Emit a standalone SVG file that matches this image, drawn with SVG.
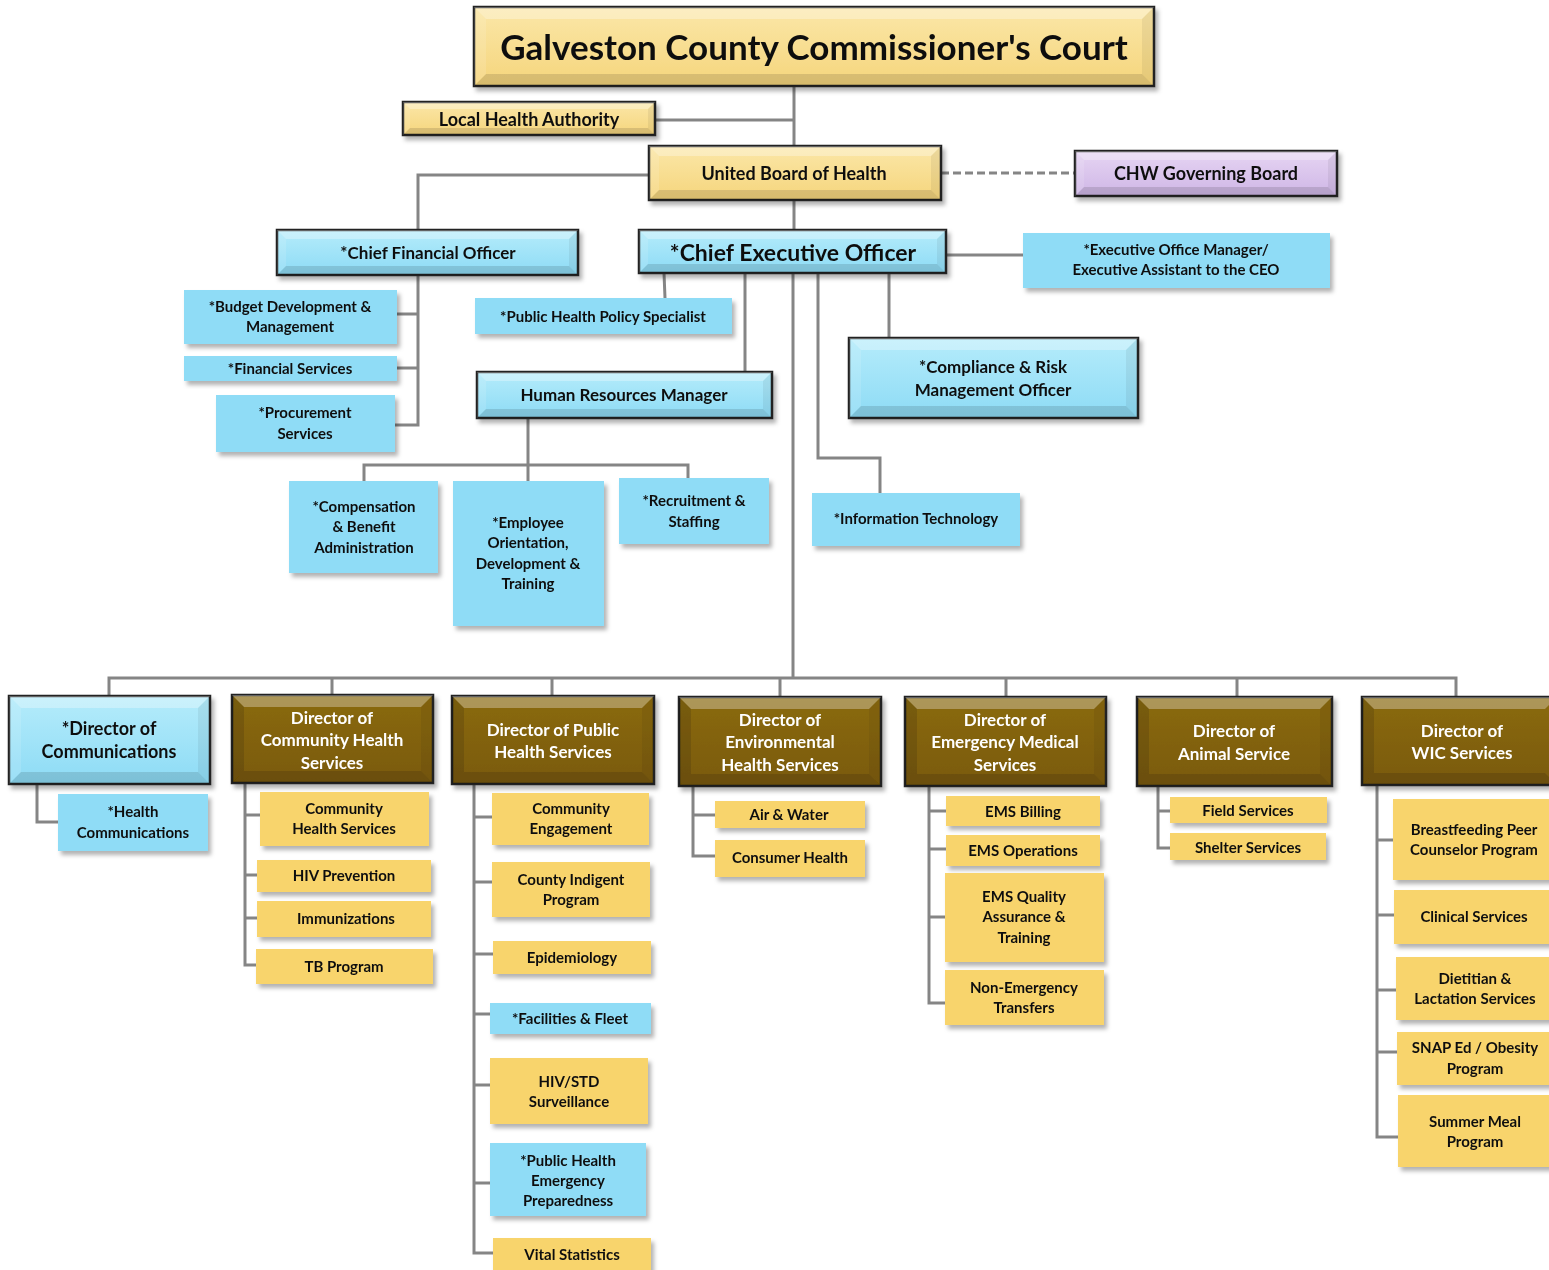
<svg xmlns="http://www.w3.org/2000/svg" width="1549" height="1270" viewBox="0 0 1549 1270">
<defs>
<filter id="sh" x="-10%" y="-10%" width="130%" height="140%">
<feDropShadow dx="3" dy="4" stdDeviation="2" flood-color="#000" flood-opacity="0.3"/>
</filter>
<linearGradient id="gy" x1="0" y1="0" x2="0" y2="1"><stop offset="0" stop-color="#fbe7a8"/><stop offset="1" stop-color="#f5d57c"/></linearGradient>
<linearGradient id="gb" x1="0" y1="0" x2="0" y2="1"><stop offset="0" stop-color="#b5ecfb"/><stop offset="1" stop-color="#8ddbf5"/></linearGradient>
<linearGradient id="gp" x1="0" y1="0" x2="0" y2="1"><stop offset="0" stop-color="#e6d5f3"/><stop offset="1" stop-color="#cfb6e6"/></linearGradient>
<linearGradient id="gr" x1="0" y1="0" x2="0" y2="1"><stop offset="0" stop-color="#8a6a12"/><stop offset="1" stop-color="#7a5a08"/></linearGradient>
</defs>
<style>
.c{fill:none;stroke:#858585;stroke-width:3}
.bx{stroke:#222;stroke-width:2.5}
.y{fill:url(#gy)}
.b{fill:url(#gb)}
.p{fill:url(#gp)}
.r{fill:url(#gr)}
.fy{fill:#f8d46c}
.fb{fill:#8fdcf6}
.bt{fill:#fff;opacity:0.3}
.bl{fill:#fff;opacity:0.12}
.bb{fill:#000;opacity:0.12}
.br{fill:#000;opacity:0.06}
text{font-family:Lato,"Liberation Sans",sans-serif;font-weight:bold;text-anchor:middle;fill:#111}
.s{font-size:15px}
.m{font-size:17px}
.d{font-size:17px;fill:#fff}
.dk{font-size:17px}
</style>
<g id="connectors">
<path class="c" d="M794,86 V146 M655,120 H794 M794,200 V230 M649,175 H418 V230 M946,255 H1023"/>
<path class="c" d="M941,173 H1075" stroke-dasharray="8 4"/>
<path class="c" d="M418,275 V425 H395 M397,314 H418 M397,368 H418"/>
<path class="c" d="M664,273 L665,298 M745,273 V372 M889,273 V338 M818,273 V458 H880 V493 M793,273 V678"/>
<path class="c" d="M109,696 V678 H1456 V697 M332,678 V695 M552,678 V696 M780,678 V697 M1006,678 V697 M1237,678 V697"/>
<path class="c" d="M528,418 V481 M364,481 V465 H688 V478"/>
<path class="c" d="M37,784 V822 H58"/>
<path class="c" d="M245,783 V965 H256 M245,815 H260 M245,875 H257 M245,918 H257"/>
<path class="c" d="M474,784 V1253 H493 M474,817 H492 M474,882 H492 M474,954 H493 M474,1014 H490 M474,1085 H490 M474,1183 H490"/>
<path class="c" d="M693,786 V856 H715 M693,815 H715"/>
<path class="c" d="M929,786 V1003 H945 M929,811 H946 M929,849 H946 M929,917 H945"/>
<path class="c" d="M1158,786 V848 H1170 M1158,811 H1170"/>
<path class="c" d="M1377,785 V1137 H1398 M1377,840 H1393 M1377,915 H1394 M1377,990 H1396 M1377,1052 H1397"/>
</g>
<g id="title" filter="url(#sh)">
<rect class="bx y" x="474" y="7" width="680" height="79"/>
<polygon class="bt" points="474,7 1154,7 1142,19 486,19"/><polygon class="bb" points="474,86 1154,86 1142,74 486,74"/><polygon class="bl" points="474,7 486,19 486,74 474,86"/><polygon class="br" points="1154,7 1142,19 1142,74 1154,86"/>
<text x="814" y="60" style="font-size:35px">Galveston County Commissioner's Court</text>
</g>
<g id="lha" filter="url(#sh)">
<rect class="bx y" x="403" y="102" width="252" height="33"/>
<polygon class="bt" points="403,102 655,102 648,109 410,109"/><polygon class="bb" points="403,135 655,135 648,128 410,128"/><polygon class="bl" points="403,102 410,109 410,128 403,135"/><polygon class="br" points="655,102 648,109 648,128 655,135"/>
<text class="m" x="529" y="126" style="font-size:18px">Local Health Authority</text>
</g>
<g id="ubh" filter="url(#sh)">
<rect class="bx y" x="649" y="146" width="292" height="54"/>
<polygon class="bt" points="649,146 941,146 931,156 659,156"/><polygon class="bb" points="649,200 941,200 931,190 659,190"/><polygon class="bl" points="649,146 659,156 659,190 649,200"/><polygon class="br" points="941,146 931,156 931,190 941,200"/>
<text class="m" x="794" y="180" style="font-size:18px">United Board of Health</text>
</g>
<g id="chw" filter="url(#sh)">
<rect class="bx p" x="1075" y="151" width="262" height="45"/>
<polygon class="bt" points="1075,151 1337,151 1328,160 1084,160"/><polygon class="bb" points="1075,196 1337,196 1328,187 1084,187"/><polygon class="bl" points="1075,151 1084,160 1084,187 1075,196"/><polygon class="br" points="1337,151 1328,160 1328,187 1337,196"/>
<text class="m" x="1206" y="180" style="font-size:18px">CHW Governing Board</text>
</g>
<g id="cfo" filter="url(#sh)">
<rect class="bx b" x="277" y="230" width="301" height="45"/>
<polygon class="bt" points="277,230 578,230 569,239 286,239"/><polygon class="bb" points="277,275 578,275 569,266 286,266"/><polygon class="bl" points="277,230 286,239 286,266 277,275"/><polygon class="br" points="578,230 569,239 569,266 578,275"/>
<text class="m" x="428" y="259">*Chief Financial Officer</text>
</g>
<g id="ceo" filter="url(#sh)">
<rect class="bx b" x="639" y="230" width="307" height="43"/>
<polygon class="bt" points="639,230 946,230 937,239 648,239"/><polygon class="bb" points="639,273 946,273 937,264 648,264"/><polygon class="bl" points="639,230 648,239 648,264 639,273"/><polygon class="br" points="946,230 937,239 937,264 946,273"/>
<text x="793" y="261" style="font-size:23px">*Chief Executive Officer</text>
</g>
<g id="eom" filter="url(#sh)">
<rect class="fb" x="1023" y="233" width="307" height="55"/>
<text class="s" x="1176" y="255">*Executive Office Manager/</text>
<text class="s" x="1176" y="275">Executive Assistant to the CEO</text>
</g>
<g id="budget" filter="url(#sh)">
<rect class="fb" x="184" y="290" width="213" height="54"/>
<text class="s" x="290" y="312">*Budget Development &amp;</text>
<text class="s" x="290" y="332">Management</text>
</g>
<g id="financial" filter="url(#sh)">
<rect class="fb" x="184" y="356" width="213" height="25"/>
<text class="s" x="290" y="374">*Financial Services</text>
</g>
<g id="procurement" filter="url(#sh)">
<rect class="fb" x="216" y="395" width="179" height="57"/>
<text class="s" x="305" y="418">*Procurement</text>
<text class="s" x="305" y="439">Services</text>
</g>
<g id="phps" filter="url(#sh)">
<rect class="fb" x="475" y="298" width="257" height="36"/>
<text class="s" x="603" y="322">*Public Health Policy Specialist</text>
</g>
<g id="hr" filter="url(#sh)">
<rect class="bx b" x="477" y="372" width="295" height="46"/>
<polygon class="bt" points="477,372 772,372 763,381 486,381"/><polygon class="bb" points="477,418 772,418 763,409 486,409"/><polygon class="bl" points="477,372 486,381 486,409 477,418"/><polygon class="br" points="772,372 763,381 763,409 772,418"/>
<text class="m" x="624" y="401">Human Resources Manager</text>
</g>
<g id="compliance" filter="url(#sh)">
<rect class="bx b" x="849" y="338" width="289" height="80"/>
<polygon class="bt" points="849,338 1138,338 1126,350 861,350"/><polygon class="bb" points="849,418 1138,418 1126,406 861,406"/><polygon class="bl" points="849,338 861,350 861,406 849,418"/><polygon class="br" points="1138,338 1126,350 1126,406 1138,418"/>
<text class="m" x="993" y="373">*Compliance &amp; Risk</text>
<text class="m" x="993" y="396">Management Officer</text>
</g>
<g id="it" filter="url(#sh)">
<rect class="fb" x="812" y="493" width="208" height="53"/>
<text class="s" x="916" y="524">*Information Technology</text>
</g>
<g id="comp" filter="url(#sh)">
<rect class="fb" x="289" y="481" width="149" height="92"/>
<text class="s" x="364" y="512">*Compensation</text>
<text class="s" x="364" y="532">&amp; Benefit</text>
<text class="s" x="364" y="553">Administration</text>
</g>
<g id="employee" filter="url(#sh)">
<rect class="fb" x="453" y="481" width="151" height="145"/>
<text class="s" x="528" y="528">*Employee</text>
<text class="s" x="528" y="548">Orientation,</text>
<text class="s" x="528" y="569">Development &amp;</text>
<text class="s" x="528" y="589">Training</text>
</g>
<g id="recruit" filter="url(#sh)">
<rect class="fb" x="619" y="478" width="150" height="66"/>
<text class="s" x="694" y="506">*Recruitment &amp;</text>
<text class="s" x="694" y="527">Staffing</text>
</g>
<g id="dir-comm" filter="url(#sh)">
<rect class="bx b" x="9" y="696" width="201" height="88"/>
<polygon class="bt" points="9,696 210,696 198,708 21,708"/><polygon class="bb" points="9,784 210,784 198,772 21,772"/><polygon class="bl" points="9,696 21,708 21,772 9,784"/><polygon class="br" points="210,696 198,708 198,772 210,784"/>
<text class="dk" x="109" y="735" style="font-size:18px">*Director of</text>
<text class="dk" x="109" y="758" style="font-size:18px">Communications</text>
</g>
<g id="dir-ch" filter="url(#sh)">
<rect class="bx r" x="232" y="695" width="201" height="88"/>
<polygon class="bt" points="232,695 433,695 421,707 244,707"/><polygon class="bb" points="232,783 433,783 421,771 244,771"/><polygon class="bb" points="232,695 244,707 244,771 232,783"/><polygon class="br" points="433,695 421,707 421,771 433,783"/>
<text class="d" x="332" y="724">Director of</text>
<text class="d" x="332" y="746">Community Health</text>
<text class="d" x="332" y="769">Services</text>
</g>
<g id="dir-ph" filter="url(#sh)">
<rect class="bx r" x="452" y="696" width="202" height="88"/>
<polygon class="bt" points="452,696 654,696 642,708 464,708"/><polygon class="bb" points="452,784 654,784 642,772 464,772"/><polygon class="bb" points="452,696 464,708 464,772 452,784"/><polygon class="br" points="654,696 642,708 642,772 654,784"/>
<text class="d" x="553" y="736">Director of Public</text>
<text class="d" x="553" y="758">Health Services</text>
</g>
<g id="dir-env" filter="url(#sh)">
<rect class="bx r" x="679" y="697" width="202" height="89"/>
<polygon class="bt" points="679,697 881,697 869,709 691,709"/><polygon class="bb" points="679,786 881,786 869,774 691,774"/><polygon class="bb" points="679,697 691,709 691,774 679,786"/><polygon class="br" points="881,697 869,709 869,774 881,786"/>
<text class="d" x="780" y="726">Director of</text>
<text class="d" x="780" y="748">Environmental</text>
<text class="d" x="780" y="771">Health Services</text>
</g>
<g id="dir-ems" filter="url(#sh)">
<rect class="bx r" x="905" y="697" width="201" height="89"/>
<polygon class="bt" points="905,697 1106,697 1094,709 917,709"/><polygon class="bb" points="905,786 1106,786 1094,774 917,774"/><polygon class="bb" points="905,697 917,709 917,774 905,786"/><polygon class="br" points="1106,697 1094,709 1094,774 1106,786"/>
<text class="d" x="1005" y="726">Director of</text>
<text class="d" x="1005" y="748">Emergency Medical</text>
<text class="d" x="1005" y="771">Services</text>
</g>
<g id="dir-animal" filter="url(#sh)">
<rect class="bx r" x="1137" y="697" width="195" height="89"/>
<polygon class="bt" points="1137,697 1332,697 1320,709 1149,709"/><polygon class="bb" points="1137,786 1332,786 1320,774 1149,774"/><polygon class="bb" points="1137,697 1149,709 1149,774 1137,786"/><polygon class="br" points="1332,697 1320,709 1320,774 1332,786"/>
<text class="d" x="1234" y="737">Director of</text>
<text class="d" x="1234" y="760">Animal Service</text>
</g>
<g id="dir-wic" filter="url(#sh)">
<rect class="bx r" x="1362" y="697" width="195" height="88"/>
<polygon class="bt" points="1362,697 1557,697 1545,709 1374,709"/><polygon class="bb" points="1362,785 1557,785 1545,773 1374,773"/><polygon class="bb" points="1362,697 1374,709 1374,773 1362,785"/>
<text class="d" x="1462" y="737">Director of</text>
<text class="d" x="1462" y="759">WIC Services</text>
</g>
<g id="health-comm" filter="url(#sh)">
<rect class="fb" x="58" y="794" width="150" height="57"/>
<text class="s" x="133" y="817">*Health</text>
<text class="s" x="133" y="838">Communications</text>
</g>
<g id="chs" filter="url(#sh)">
<rect class="fy" x="260" y="792" width="169" height="54"/>
<text class="s" x="344" y="814">Community</text>
<text class="s" x="344" y="834">Health Services</text>
</g>
<g id="hivp" filter="url(#sh)">
<rect class="fy" x="257" y="860" width="174" height="32"/>
<text class="s" x="344" y="881">HIV Prevention</text>
</g>
<g id="immun" filter="url(#sh)">
<rect class="fy" x="257" y="901" width="174" height="36"/>
<text class="s" x="346" y="924">Immunizations</text>
</g>
<g id="tb" filter="url(#sh)">
<rect class="fy" x="256" y="949" width="177" height="35"/>
<text class="s" x="344" y="972">TB Program</text>
</g>
<g id="ce" filter="url(#sh)">
<rect class="fy" x="492" y="793" width="157" height="52"/>
<text class="s" x="571" y="814">Community</text>
<text class="s" x="571" y="834">Engagement</text>
</g>
<g id="cip" filter="url(#sh)">
<rect class="fy" x="492" y="862" width="158" height="55"/>
<text class="s" x="571" y="885">County Indigent</text>
<text class="s" x="571" y="905">Program</text>
</g>
<g id="epi" filter="url(#sh)">
<rect class="fy" x="493" y="941" width="158" height="33"/>
<text class="s" x="572" y="963">Epidemiology</text>
</g>
<g id="ff" filter="url(#sh)">
<rect class="fb" x="490" y="1003" width="161" height="31"/>
<text class="s" x="570" y="1024">*Facilities &amp; Fleet</text>
</g>
<g id="hivstd" filter="url(#sh)">
<rect class="fy" x="490" y="1058" width="158" height="66"/>
<text class="s" x="569" y="1087">HIV/STD</text>
<text class="s" x="569" y="1107">Surveillance</text>
</g>
<g id="phep" filter="url(#sh)">
<rect class="fb" x="490" y="1143" width="156" height="73"/>
<text class="s" x="568" y="1166">*Public Health</text>
<text class="s" x="568" y="1186">Emergency</text>
<text class="s" x="568" y="1206">Preparedness</text>
</g>
<g id="vital" filter="url(#sh)">
<rect class="fy" x="493" y="1238" width="158" height="40"/>
<text class="s" x="572" y="1260">Vital Statistics</text>
</g>
<g id="airwater" filter="url(#sh)">
<rect class="fy" x="715" y="801" width="150" height="27"/>
<text class="s" x="789" y="820">Air &amp; Water</text>
</g>
<g id="consumer" filter="url(#sh)">
<rect class="fy" x="715" y="840" width="150" height="37"/>
<text class="s" x="790" y="863">Consumer Health</text>
</g>
<g id="emsbill" filter="url(#sh)">
<rect class="fy" x="946" y="796" width="154" height="30"/>
<text class="s" x="1023" y="817">EMS Billing</text>
</g>
<g id="emsops" filter="url(#sh)">
<rect class="fy" x="946" y="835" width="154" height="31"/>
<text class="s" x="1023" y="856">EMS Operations</text>
</g>
<g id="emsqa" filter="url(#sh)">
<rect class="fy" x="945" y="873" width="159" height="89"/>
<text class="s" x="1024" y="902">EMS Quality</text>
<text class="s" x="1024" y="922">Assurance &amp;</text>
<text class="s" x="1024" y="943">Training</text>
</g>
<g id="nonemerg" filter="url(#sh)">
<rect class="fy" x="945" y="970" width="159" height="55"/>
<text class="s" x="1024" y="993">Non-Emergency</text>
<text class="s" x="1024" y="1013">Transfers</text>
</g>
<g id="field" filter="url(#sh)">
<rect class="fy" x="1170" y="797" width="157" height="26"/>
<text class="s" x="1248" y="816">Field Services</text>
</g>
<g id="shelter" filter="url(#sh)">
<rect class="fy" x="1170" y="833" width="156" height="27"/>
<text class="s" x="1248" y="853">Shelter Services</text>
</g>
<g id="bf" filter="url(#sh)">
<rect class="fy" x="1393" y="799" width="160" height="81"/>
<text class="s" x="1474" y="835">Breastfeeding Peer</text>
<text class="s" x="1474" y="855">Counselor Program</text>
</g>
<g id="clinical" filter="url(#sh)">
<rect class="fy" x="1394" y="890" width="160" height="54"/>
<text class="s" x="1474" y="922">Clinical Services</text>
</g>
<g id="diet" filter="url(#sh)">
<rect class="fy" x="1396" y="957" width="158" height="63"/>
<text class="s" x="1475" y="984">Dietitian &amp;</text>
<text class="s" x="1475" y="1004">Lactation Services</text>
</g>
<g id="snap" filter="url(#sh)">
<rect class="fy" x="1397" y="1032" width="157" height="53"/>
<text class="s" x="1475" y="1053">SNAP Ed / Obesity</text>
<text class="s" x="1475" y="1074">Program</text>
</g>
<g id="summer" filter="url(#sh)">
<rect class="fy" x="1398" y="1095" width="156" height="72"/>
<text class="s" x="1475" y="1127">Summer Meal</text>
<text class="s" x="1475" y="1147">Program</text>
</g>
</svg>
